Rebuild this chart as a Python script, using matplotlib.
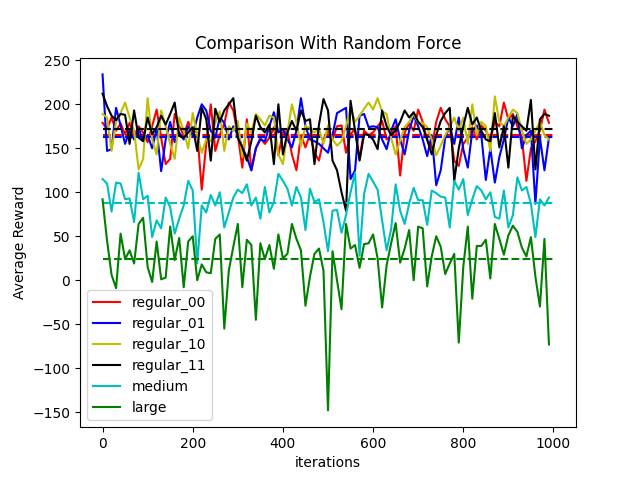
import numpy as np
import matplotlib
matplotlib.use("Agg")
import matplotlib.pyplot as plt

n_iter = 1000
iterations = np.arange(0, n_iter, 10)

regular_00 = [179, 172, 185, 170, 178, 166, 179, 164, 175, 168,
              157, 175, 194, 162, 132, 138, 189, 175, 165, 180,
              170, 168, 103, 155, 200, 147, 165, 178, 202, 193,
              165, 128, 183, 125, 150, 162, 155, 162, 174, 142,
              168, 170, 143, 125, 165, 151, 166, 145, 136, 160,
              170, 160, 175, 176, 145, 166, 172, 138, 170, 165,
              168, 175, 181, 160, 165, 175, 119, 168, 178, 170,
              194, 180, 159, 150, 180, 196, 183, 175, 136, 130,
              155, 162, 174, 160, 176, 170, 160, 180, 175, 202,
              183, 189, 175, 162, 113, 150, 158, 170, 194, 179]

regular_01 = [234, 147, 149, 196, 176, 155, 170, 160, 173, 158,
              165, 150, 172, 124, 160, 180, 157, 168, 160, 175,
              165, 185, 200, 193, 170, 162, 185, 179, 160, 175,
              165, 151, 140, 125, 150, 160, 158, 175, 191, 168,
              172, 160, 151, 170, 207, 175, 160, 158, 155, 150,
              145, 165, 190, 193, 196, 115, 125, 187, 189, 174,
              175, 174, 160, 149, 170, 183, 160, 143, 170, 187,
              175, 160, 141, 165, 108, 125, 162, 175, 155, 185,
              149, 128, 170, 176, 165, 114, 150, 111, 140, 160,
              185, 175, 189, 150, 165, 170, 87, 162, 125, 162]

regular_10 = [189, 185, 147, 180, 190, 202, 185, 170, 126, 138,
              207, 160, 143, 193, 175, 155, 138, 185, 170, 150,
              190, 165, 145, 160, 158, 179, 192, 147, 175, 170,
              181, 140, 178, 168, 189, 183, 176, 187, 185, 143,
              132, 168, 200, 180, 152, 176, 172, 168, 172, 155,
              176, 160, 153, 158, 175, 196, 180, 187, 195, 202,
              194, 207, 192, 189, 162, 143, 159, 174, 180, 189,
              179, 179, 174, 160, 142, 153, 165, 174, 185, 170,
              185, 155, 200, 165, 180, 175, 147, 209, 180, 175,
              185, 194, 190, 170, 155, 160, 170, 180, 165, 160]

regular_11 = [212, 198, 187, 182, 189, 188, 155, 193, 162, 158,
              185, 166, 174, 187, 177, 189, 202, 164, 162, 168,
              174, 147, 196, 183, 136, 195, 180, 193, 200, 207,
              162, 151, 136, 158, 187, 174, 168, 177, 132, 200,
              143, 168, 181, 170, 193, 181, 183, 132, 177, 206,
              193, 136, 125, 100, 79, 204, 170, 136, 166, 165,
              160, 149, 193, 175, 165, 170, 180, 193, 185, 191,
              180, 174, 160, 143, 165, 181, 190, 196, 113, 150,
              175, 196, 177, 185, 170, 160, 158, 190, 151, 175,
              128, 187, 180, 175, 170, 205, 126, 183, 189, 187]

medium = [115, 110, 78, 111, 110, 92, 93, 66, 122,
          92, 96, 49, 68, 59, 94, 83, 53, 70, 85, 113, 102, 19, 85, 77, 97, 85, 100,
          60, 77, 94, 103, 99, 109, 85, 94, 70, 106, 77, 89, 121, 113, 104, 85, 106,
          94, 57, 104, 89, 92,
          66, 33, 79, 80, 54, 74, 100, 122, 28, 98, 121, 112, 103, 68, 34, 58, 109,
          79, 64, 87, 105, 91, 91, 63, 102, 99,
          95, 94, 60, 113, 103, 115, 74, 92, 107, 102, 92, 100, 72, 70, 102, 60, 74,
          117, 102, 106, 87, 49, 92, 85, 94]

large = [92, 45, 6, -9, 53, 24, 34, 19, 64, 71,
         15, -2, 44, 1, 3, 61, 23, 48, -8, 44,
         50, 0, 18, 9, 8, 47, 52, -55, 11, 38,
         64, -8, 46, 40, -45, 42, 24, 40, 13, 52,
         25, 30, 64, 47, 34, -29, 4, 30, 36, 11,
         -148, 33, 0, -33, 64, 36, 40, 14, 41, 42,
         52, 25, -31, 17, 42, 65, 20, 36, 57, 0,
         61, 59, -7, 27, 50, 38, 7, 19, 30, -71,
         15, 61, -21, 39, 39, 46, 2, 64, 47, 29,
         51, 62, 55, 37, 27, 49, 4, -30, 47, -73]

names = ["regular_00", "regular_01", "regular_10", "regular_11", "medium", "large"]
series = [regular_00, regular_01, regular_10, regular_11, medium, large]
colors = ["r", "b", "y", "k", "c", "g"]

fig = plt.figure(figsize=(6.4, 4.8), dpi=100)
for name, vals, c in zip(names, series, colors):
    plt.plot(iterations, vals, color=c, label=name)
    plt.hlines(np.mean(vals), 0, n_iter, colors=c, linestyles="dashed")

plt.title("Comparison With Random Force")
plt.xlabel("iterations")
plt.ylabel("Average Reward")
plt.legend(loc="lower left")
plt.savefig("out.png")
